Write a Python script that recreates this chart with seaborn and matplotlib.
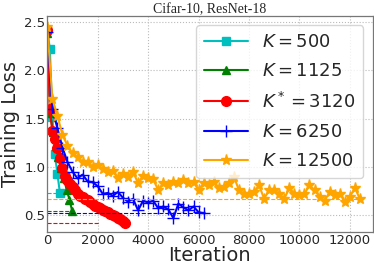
import matplotlib
matplotlib.use("Agg")
import matplotlib.pyplot as plt
import numpy as np
import pandas as pd
import seaborn as sns

# Training loss curves, one per K
iters_500 = [0, 100, 200, 300, 400, 500]
loss_500 = [2.42, 2.22, 1.52, 1.13, 0.93, 0.73]

iters_1125 = [0, 110, 220, 330, 440, 550, 660, 770, 880, 990]
loss_1125 = [2.38, 1.56, 1.36, 1.22, 1.10, 0.99, 0.88, 0.76, 0.66, 0.54]

iters_3120 = list(range(0, 3200, 100))
loss_3120 = [2.42, 1.60, 1.37, 1.29, 1.19, 1.09, 0.99, 0.91, 0.86, 0.82,
             0.79, 0.76, 0.72, 0.70, 0.69, 0.67, 0.655, 0.64, 0.62, 0.60,
             0.585, 0.57, 0.555, 0.54, 0.53, 0.515, 0.50, 0.49, 0.475, 0.46,
             0.44, 0.42]

iters_6250 = list(range(0, 6400, 200))
loss_6250 = [2.40, 1.60, 1.40, 1.20, 1.05, 0.95, 0.88, 0.92, 0.85, 0.84,
             0.80, 0.72, 0.73, 0.70, 0.74, 0.68, 0.64, 0.67, 0.55, 0.65,
             0.63, 0.65, 0.57, 0.59, 0.56, 0.47, 0.62, 0.58, 0.55, 0.59,
             0.53, 0.52]

iters_12500 = list(range(0, 12600, 200))
loss_12500 = [2.45, 1.70, 1.53, 1.33, 1.22, 1.14, 1.10, 1.05, 1.05, 1.00,
              1.02, 0.98, 0.95, 0.96, 0.88, 0.93, 0.90, 0.95, 0.83, 0.91,
              0.88, 0.87, 0.76, 0.83, 0.81, 0.84, 0.83, 0.86, 0.83, 0.84,
              0.76, 0.83, 0.81, 0.84, 0.78, 0.79, 0.83, 0.90, 0.76, 0.72,
              0.72, 0.74, 0.81, 0.67, 0.76, 0.76, 0.72, 0.67, 0.78, 0.72,
              0.71, 0.72, 0.81, 0.76, 0.69, 0.65, 0.74, 0.71, 0.72, 0.64,
              0.69, 0.78, 0.67]

labels = ["$K=500$", "$K=1125$", "$K^*=3120$", "$K=6250$", "$K=12500$"]
colors = ["c", "g", "r", "b", "orange"]
markers = ["s", "^", "o", "+", "*"]
# how far each dashed "final loss" line reaches
ref_end = [500, 1000, 2050, 6250, 12500]

series = [(iters_500, loss_500), (iters_1125, loss_1125), (iters_3120, loss_3120),
          (iters_6250, loss_6250), (iters_12500, loss_12500)]

sns.set_style("white")
plt.rcParams["font.family"] = ["DejaVu Sans"]

fig = plt.figure(figsize=(3.74, 2.68), dpi=100)
ax = fig.add_axes([0.1265, 0.134, 0.8695, 0.806])

msizes = [6, 6, 7, 9, 8]
for (x, y), lab, c, m, ms, end in zip(series, labels, colors, markers, msizes, ref_end):
    df = pd.DataFrame({"Iteration": x, "Loss": y})
    sns.lineplot(data=df, x="Iteration", y="Loss", ax=ax, color=c, marker=m,
                 markersize=ms, markeredgecolor=c, markeredgewidth=1.0,
                 linewidth=1.5, label=lab, legend=False)
    ax.hlines(y[-1], 0, end, colors=c, linestyles="--", linewidth=0.8)

ax.set_xlim(0, 12900)
ax.set_ylim(0.325, 2.56)
ax.set_xticks([0, 2000, 4000, 6000, 8000, 10000, 12000])
ax.set_yticks([0.5, 1.0, 1.5, 2.0, 2.5])
ax.tick_params(labelsize=9.5, length=0, pad=1.5)
ax.grid(True, linestyle=":", color="#bbbbbb", linewidth=0.8)
for s in ax.spines.values():
    s.set_color("#777777")
    s.set_linewidth(0.9)

ax.set_xlabel("Iteration", fontsize=14, labelpad=-1)
ax.set_ylabel("Training Loss", fontsize=14, labelpad=3)
ax.set_title("Cifar-10, ResNet-18", fontsize=10, family="Liberation Serif", pad=2)

ax.legend(loc="upper right", fontsize=13, framealpha=0.8, borderpad=0.45,
          labelspacing=0.62, handlelength=2.4)

fig.savefig("out.png", dpi=100)
